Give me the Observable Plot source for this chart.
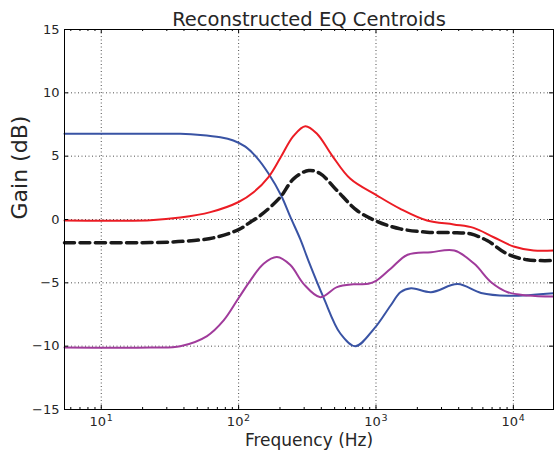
<!DOCTYPE html>
<html><head><meta charset="utf-8">
<script src="https://cdn.jsdelivr.net/npm/d3@7"></script>
<script src="https://cdn.jsdelivr.net/npm/@observablehq/plot@0.6"></script>
<style>html,body{margin:0;padding:0;background:#fff} svg{display:block}</style>
</head><body><div id="chart"></div>
<script>
// ---- data ----
const blueFreq = [5.4, 22.8, 37.6, 52.6, 73.6, 91.5, 112, 136.6, 164.5, 204, 238, 281, 322, 414, 550, 708, 973, 1278, 1505, 1800, 2516, 3930, 5820, 9100, 19600];
const blueGain = [6.77, 6.77, 6.76, 6.68, 6.5, 6.24, 5.75, 4.85, 3.65, 1.9, 0.2, -1.55, -3.24, -6.13, -9.0, -10.0, -8.6, -6.79, -5.74, -5.42, -5.74, -5.1, -5.8, -6.02, -5.82];

const redFreq = [5.4, 22.8, 37.6, 62.3, 100, 128.5, 165, 201, 251, 306, 372, 479, 651, 1019, 1504, 2353, 3676, 5140, 7190, 10050, 14060, 19600];
const redGain = [-0.08, -0.05, 0.15, 0.58, 1.38, 2.15, 3.35, 4.85, 6.6, 7.37, 6.77, 5.05, 3.21, 1.89, 0.84, -0.08, -0.39, -0.66, -1.40, -2.13, -2.45, -2.45];

const purpleFreq = [5.4, 22.8, 37.6, 58.9, 77.8, 100, 121.6, 152, 190, 238, 297, 394, 520, 687, 880, 1000, 1278, 1698, 2516, 3716, 5200, 6890, 9100, 12710, 19600];
const purpleGain = [-10.1, -10.1, -10.0, -9.2, -7.97, -6.2, -4.82, -3.5, -2.97, -3.6, -5.08, -6.13, -5.34, -5.12, -5.08, -4.85, -3.89, -2.78, -2.58, -2.45, -3.5, -4.95, -5.74, -6.0, -6.08];

const meanFreq = [5.4, 22.8, 40, 65.5, 100, 121.6, 144, 201, 251, 324, 394, 520, 728, 1019, 1504, 2353, 3890, 4860, 6440, 9000, 12590, 19600];
const meanGain = [-1.84, -1.82, -1.72, -1.45, -0.8, -0.21, 0.32, 1.76, 3.21, 3.87, 3.61, 2.29, 0.71, -0.15, -0.74, -1.0, -1.05, -1.13, -1.66, -2.71, -3.18, -3.24];

const xTicks = [10, 100, 1000, 10000];
const xTickBase = "10";
const xTickExponents = ["1", "2", "3", "4"];
const yTicks = [-15, -10, -5, 0, 5, 10, 15];
const xDomain = [5.4, 19600];
const yDomain = [-15, 15];

const titleText = "Reconstructed EQ Centroids";
const xLabelText = "Frequency (Hz)";
const yLabelText = "Gain (dB)";

// ---- layout ----
const W = 554, H = 450, mL = 64, mR = 1, mT = 29, mB = 41;
const fw = W - mL - mR, fh = H - mT - mB;

const rows = (f, g) => f.map((x, i) => ({f: x, g: g[i]}));
const minorTicks = [];
for (let d = 1; d <= 10000; d *= 10)
  for (let k = 2; k <= 9; k++) {
    const v = k * d;
    if (v >= xDomain[0] && v <= xDomain[1]) minorTicks.push(v);
  }

const gridStyle = {stroke: "#000", strokeOpacity: 1, strokeWidth: 0.7, strokeDasharray: "1,2.5"};
const textColor = "#262626";
const curve = "catmull-rom";

const chart = Plot.plot({
  width: W, height: H,
  marginLeft: mL, marginRight: mR, marginTop: mT, marginBottom: mB,
  style: {fontFamily: "DejaVu Sans", background: "#fff", overflow: "visible", color: "#222"},
  x: {type: "log", domain: xDomain, axis: null},
  y: {domain: yDomain},
  marks: [
    Plot.gridX(xTicks, {x: d => d, ...gridStyle}),
    Plot.gridY(yTicks.slice(1, -1), {y: d => d, ...gridStyle}),
    Plot.line(rows(blueFreq, blueGain), {x: "f", y: "g", stroke: "#3953a4", strokeWidth: 2, curve}),
    Plot.line(rows(redFreq, redGain), {x: "f", y: "g", stroke: "#ec1c24", strokeWidth: 2, curve}),
    Plot.line(rows(purpleFreq, purpleGain), {x: "f", y: "g", stroke: "#a03b9b", strokeWidth: 2, curve}),
    Plot.line(rows(meanFreq, meanGain), {x: "f", y: "g", stroke: "#1a1a1a", strokeWidth: 3.5, strokeDasharray: "10,5.5", curve}),
    Plot.tickY(yTicks, {y: d => d, stroke: "#000", insetRight: fw - 4}),
    Plot.tickY(yTicks, {y: d => d, stroke: "#000", insetLeft: fw - 4}),
    Plot.tickX(xTicks, {x: d => d, stroke: "#000", insetTop: fh - 4}),
    Plot.tickX(xTicks, {x: d => d, stroke: "#000", insetBottom: fh - 4}),
    Plot.tickX(minorTicks, {x: d => d, stroke: "#000", insetTop: fh - 2}),
    Plot.tickX(minorTicks, {x: d => d, stroke: "#000", insetBottom: fh - 2}),
    Plot.frame({stroke: "#000", strokeWidth: 1}),
    // x tick labels: "10" plus a raised exponent
    Plot.text(xTicks, {x: d => d, text: () => xTickBase, frameAnchor: "bottom", lineAnchor: "top",
      dy: 7, dx: -3.5, fontSize: 13, fill: textColor}),
    Plot.text(xTicks, {x: d => d, text: (d, i) => xTickExponents[i], frameAnchor: "bottom", lineAnchor: "top",
      dy: 5, dx: 8.5, fontSize: 9.5, fill: textColor}),
    Plot.axisY(yTicks, {tickSize: 0, tickPadding: 5, fontSize: 13, label: null, color: textColor}),
    Plot.text([titleText], {frameAnchor: "top", lineAnchor: "bottom", dy: -4, fontSize: 19.5, fill: textColor}),
    Plot.text([xLabelText], {frameAnchor: "bottom", lineAnchor: "bottom", dy: 36, fontSize: 17, fill: textColor}),
    Plot.text([yLabelText], {frameAnchor: "left", lineAnchor: "bottom", rotate: -90, dx: -38, fontSize: 22, fill: textColor})
  ]
});
document.getElementById("chart").appendChild(chart);
</script>
</body></html>
